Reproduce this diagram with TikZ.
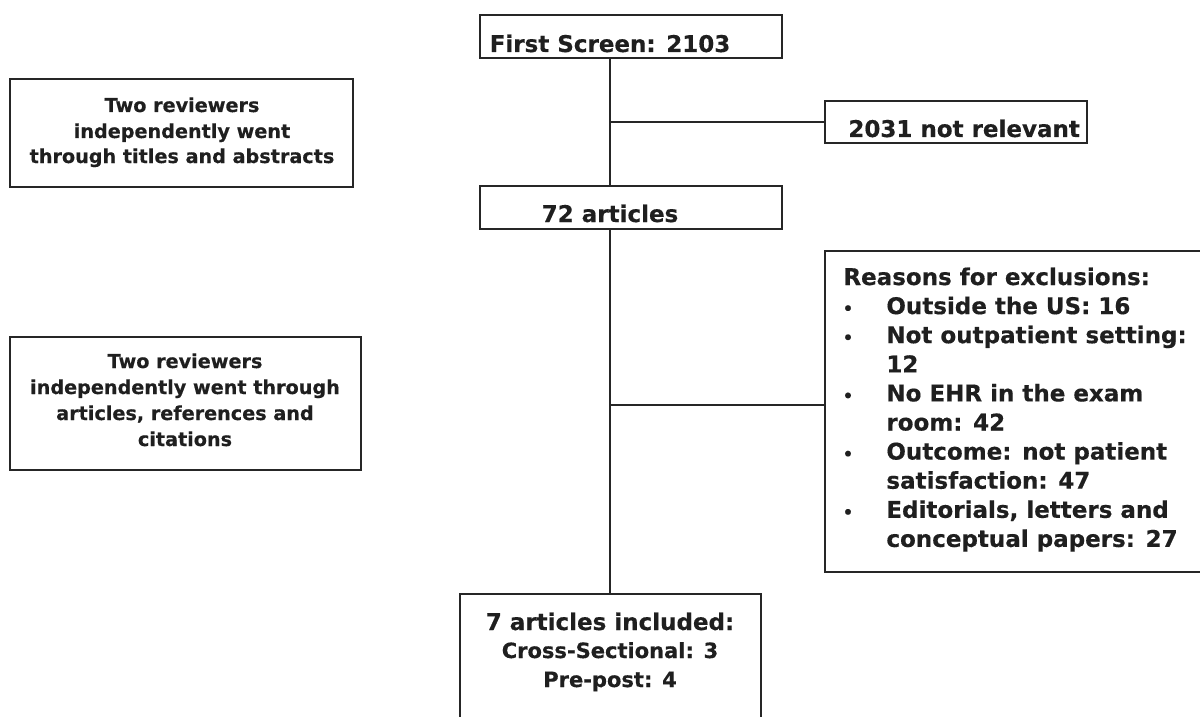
\documentclass[tikz,border=0pt]{standalone}
\usepackage{fontspec}
\setmainfont{DejaVu Sans}[BoldFeatures={FakeBold=0.4}]
\usetikzlibrary{fit}
\begin{document}
\begin{tikzpicture}[x=0.5pt,y=-0.5pt,
  box/.style={draw=black!85, line width=1pt, inner sep=0pt},
  conn/.style={draw=black!85, line width=1.2pt},
  big/.style={font=\fontsize{11.5}{14}\selectfont\bfseries, inner sep=0pt, text=black!88},
  mid/.style={font=\fontsize{10.5}{13}\selectfont\bfseries, inner sep=0pt, text=black!88},
  small/.style={font=\fontsize{9.6}{12}\selectfont\bfseries, inner sep=0pt, text=black!88},
  bul/.style={font=\fontsize{8}{10}\selectfont\bfseries, inner sep=0pt, text=black!88}]
\useasboundingbox (0,0) rectangle (1200,717);
\clip (0,0) rectangle (1200,717);
\fill[white] (0,0) rectangle (1200,717);
\coordinate (trunk) at (610,0);
% boxes
\node[box, fit={(480,15)(782,58)}] (fs) {};
\node[box, fit={(825,101)(1087,143)}] (nr) {};
\node[box, fit={(480,186)(782,229)}] (a72) {};
\node[box, fit={(825,251)(1215,572)}] (rx) {};
\node[box, fit={(460,594)(761,740)}] (inc) {};
\node[box, fit={(10,79)(353,187)}] (rv1) {};
\node[box, fit={(10,337)(361,470)}] (rv2) {};
% texts
\node[big, anchor=base] (tfs) at (610,52) {First Screen: 2103};
\node[big, anchor=base west] (tnr) at (848,137) {2031 not relevant};
\node[big, anchor=base] (t72) at (610,222) {72 articles};
\node[small, anchor=base] (r1a) at (182,112) {Two reviewers};
\node[small, anchor=base] (r1b) at (182,138) {independently went};
\node[small, anchor=base] (r1c) at (182,163) {through titles and abstracts};
\node[small, anchor=base] (r2a) at (185,368) {Two reviewers};
\node[small, anchor=base] (r2b) at (185,394) {independently went through};
\node[small, anchor=base] (r2c) at (185,420) {articles, references and};
\node[small, anchor=base] (r2d) at (185,446) {citations};
\node[big, anchor=base] (i1) at (610,630) {7 articles included:};
\node[mid, anchor=base] (i2) at (610,658) {Cross-Sectional: 3};
\node[mid, anchor=base] (i3) at (610,687) {Pre-post: 4};
\node[big, anchor=base west] (x0) at (843,285) {Reasons for exclusions:};
\foreach \t [count=\k from 1] in {Outside the US: 16,Not outpatient setting:,12,No EHR in the exam,room: 42,Outcome: not patient,satisfaction: 47,{Editorials, letters and},conceptual papers: 27}
  \node[big, anchor=base west] (x\k) at (886,{285+29.1*\k}) {\t};
\foreach \k in {1,2,4,6,8}
  \node[bul, anchor=base] (b\k) at (848,{285+29.1*\k}) {•};
% connectors
\draw[conn] (fs.south -| trunk) -- (a72.north -| trunk);
\draw[conn] (a72.south -| trunk) -- (inc.north -| trunk);
\draw[conn] (trunk |- nr.west) -- (nr.west);
\draw[conn] (trunk |- 0,405) -- (rx.west |- 0,405);
\end{tikzpicture}
\end{document}
